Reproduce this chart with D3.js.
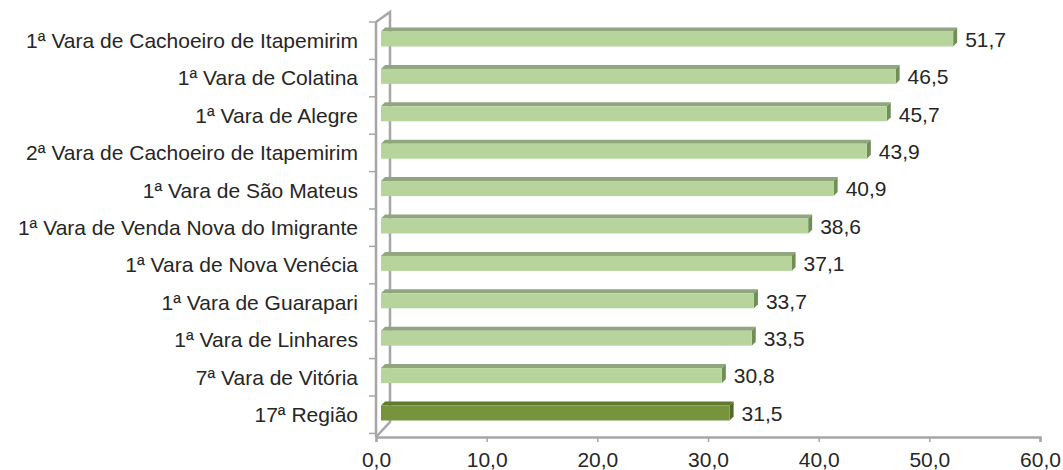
<!DOCTYPE html>
<html><head><meta charset="utf-8">
<script src="https://cdn.jsdelivr.net/npm/d3@7"></script>
<style>body{margin:0;background:#fff}svg{display:block}</style>
</head><body>
<script>
const categories = ["1ª Vara de Cachoeiro de Itapemirim","1ª Vara de Colatina","1ª Vara de Alegre","2ª Vara de Cachoeiro de Itapemirim","1ª Vara de São Mateus","1ª Vara de Venda Nova do Imigrante","1ª Vara de Nova Venécia","1ª Vara de Guarapari","1ª Vara de Linhares","7ª Vara de Vitória","17ª Região"];
const values = [51.7,46.5,45.7,43.9,40.9,38.6,37.1,33.7,33.5,30.8,31.5];
const highlight = [false,false,false,false,false,false,false,false,false,false,true];
const xTicks = [0,10,20,30,40,50,60];

const W=1063,H=470;
const svg=d3.select("body").append("svg").attr("width",W).attr("height",H);
const x=d3.scaleLinear().domain([0,60]).range([376,1040]);
const y=d3.scaleBand().domain(categories).range([22,433.4]);
const axisY=437;
const dx=14, dy=10; // wall depth
const axisCol="#a6a6a6";
const font="'Liberation Sans', Arial, sans-serif";
const fs=21;

// back wall lines
const x0=x(0);
svg.append("path").attr("d",`M${x0},${22}L${x0+dx},${22-dy}L${x0+dx},${axisY-dy*1.5}L${x0},${axisY}`)
  .attr("fill","none").attr("stroke",axisCol).attr("stroke-width",2.5);
// left axis
svg.append("line").attr("x1",x0).attr("x2",x0).attr("y1",22).attr("y2",axisY).attr("stroke",axisCol).attr("stroke-width",2.5);
categories.forEach((c,i)=>{
  const yy=y(c);
  svg.append("line").attr("x1",x0-7).attr("x2",x0).attr("y1",yy).attr("y2",yy).attr("stroke",axisCol).attr("stroke-width",1.5);
});
svg.append("line").attr("x1",x0-7).attr("x2",x0).attr("y1",y.range()[1]).attr("y2",y.range()[1]).attr("stroke",axisCol).attr("stroke-width",1.5);
// bottom axis
const gx=svg.append("g").attr("transform",`translate(0,${axisY})`)
  .call(d3.axisBottom(x).tickValues(xTicks).tickSize(5).tickPadding(10).tickFormat(d=>d3.format(".1f")(d).replace(".",",")));
gx.select(".domain").attr("stroke",axisCol).attr("stroke-width",2.5);
gx.selectAll(".tick line").attr("stroke",axisCol).attr("stroke-width",1.5);
gx.selectAll("text").attr("font-family",font).attr("font-size",fs).attr("fill","#262626");

// bars
const bh=15, off=5, d=4;
const bars=svg.append("g");
categories.forEach((c,i)=>{
  const v=values[i], hi=highlight[i];
  const bc=y(c)+y.bandwidth()/2;
  const cy=bc-1.7;
  const yt=cy-bh/2, yb=cy+bh/2;
  const xa=x(0)+off, xb=x(v)+off;
  const front=hi?"#77933c":"#b6d49b";
  const top=hi?"#5f7a2f":"#8fa67e";
  const side=hi?"#4f6a22":"#6f8f55";
  bars.append("path").attr("d",`M${xa},${yt}L${xb},${yt}L${xb+d},${yt-d}L${xa+d},${yt-d}Z`).attr("fill",top);
  bars.append("path").attr("d",`M${xb},${yt}L${xb+d},${yt-d}L${xb+d},${yb-d}L${xb},${yb}Z`).attr("fill",side);
  bars.append("rect").attr("x",xa).attr("y",yt).attr("width",xb-xa).attr("height",bh).attr("fill",front);
  svg.append("text").attr("x",xb+d+8).attr("y",cy+0.5).attr("dy","0.35em")
    .attr("font-family",font).attr("font-size",fs).attr("fill","#262626")
    .text(d3.format(".1f")(v).replace(".",","));
  svg.append("text").attr("x",358).attr("y",bc).attr("dy","0.35em").attr("text-anchor","end")
    .attr("font-family",font).attr("font-size",fs).attr("fill","#262626").text(c);
});
</script>
</body></html>
